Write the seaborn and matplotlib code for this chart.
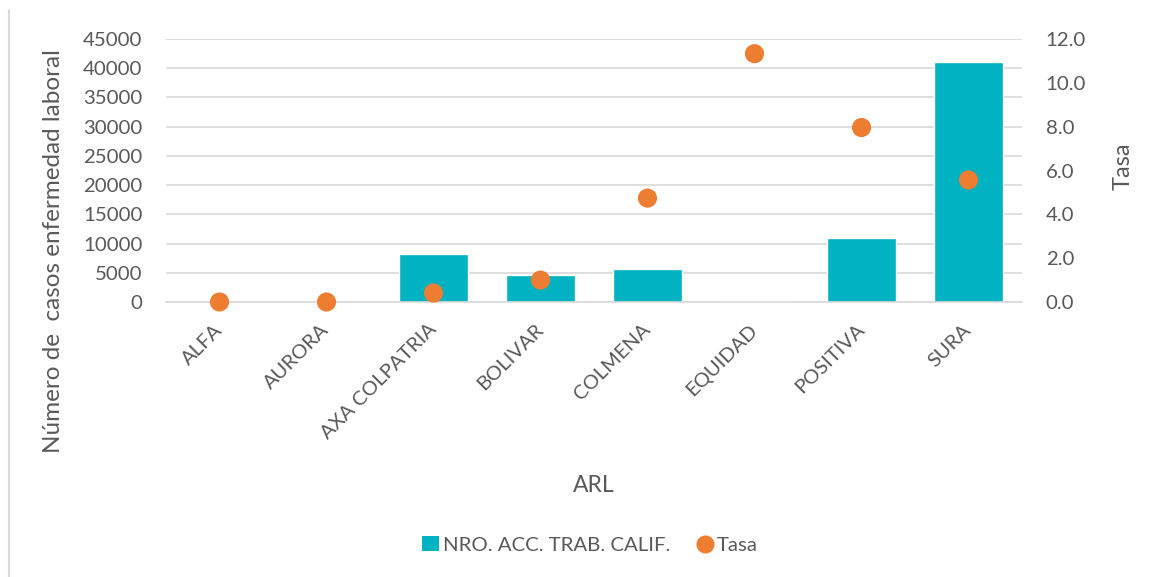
import numpy as np
import matplotlib
matplotlib.use("Agg")
import matplotlib.pyplot as plt
import seaborn as sns
from matplotlib.lines import Line2D
from matplotlib.patches import Patch

# datos
arl = ["ALFA", "AURORA", "AXA COLPATRIA", "BOLIVAR", "COLMENA", "EQUIDAD", "POSITIVA", "SURA"]
casos = [0, 0, 8200, 4650, 5650, 150, 10950, 41050]
tasa = [0.0, 0.0, 0.41, 1.0, 4.74, 11.33, 7.96, 5.57]

teal = "#00B2C2"
orange = "#ED7D31"
gray_txt = "#595959"
grid_col = "#D9D9D9"

sns.set_style("white")
plt.rcParams["font.family"] = ["Lato", "DejaVu Sans"]
plt.rcParams["text.color"] = gray_txt
plt.rcParams["axes.labelcolor"] = gray_txt

fig = plt.figure(figsize=(11.5, 5.77), dpi=100)
ax = fig.add_axes([166 / 1150, 1 - 302 / 577, 856 / 1150, 263 / 577])

sns.barplot(x=arl, y=casos, color=teal, width=0.64, saturation=1, ax=ax, zorder=2)
ax.set_ylim(0, 45000)
ax.set_yticks(np.arange(0, 45001, 5000))
ax.set_xlim(-0.5, len(arl) - 0.5)
ax.yaxis.grid(True, color=grid_col, lw=1.2, zorder=0)
ax.set_axisbelow(True)
for s in ["top", "right", "left"]:
    ax.spines[s].set_visible(False)
ax.spines["bottom"].set_color(grid_col)
ax.spines["bottom"].set_linewidth(1.2)

ax.tick_params(axis="y", length=0, pad=17, labelsize=14.7, labelcolor=gray_txt)
ax.tick_params(axis="x", which="major", length=0, pad=18, labelsize=14.5, labelcolor=gray_txt)
ax.set_xticks(np.arange(-0.5, len(arl), 1), minor=True)
ax.tick_params(axis="x", which="minor", length=6, width=1.2, color=grid_col)
for lab in ax.get_xticklabels():
    lab.set_rotation(45)
    lab.set_ha("right")
    lab.set_va("center")
    lab.set_rotation_mode("anchor")

ax.set_xlabel("ARL", fontsize=16.5)
ax.xaxis.set_label_coords(0.5, -0.658)
ax.set_ylabel("Número de  casos enfermedad laboral", fontsize=17.5)
ax.yaxis.set_label_coords(-0.119, 0.194)

ax2 = ax.twinx()
sns.scatterplot(x=np.arange(len(arl)), y=tasa, color=orange, s=190, edgecolor="none",
                ax=ax2, zorder=3, clip_on=False)
ax2.set_ylim(0, 12)
ax2.set_yticks(np.arange(0, 12.1, 2))
ax2.set_yticklabels([f"{v:.1f}" for v in np.arange(0, 12.1, 2)])
ax2.tick_params(axis="y", length=0, pad=17, labelsize=14.7, labelcolor=gray_txt)
for s in ax2.spines.values():
    s.set_visible(False)
ax2.set_ylabel("Tasa", fontsize=17)
ax2.yaxis.set_label_coords(1.106, 0.517)
ax2.set_xlim(-0.5, len(arl) - 0.5)

handles = [
    Patch(facecolor=teal, edgecolor="none", label="NRO. ACC. TRAB. CALIF."),
    Line2D([0], [0], marker="o", color="none", markerfacecolor=orange,
           markeredgecolor="none", markersize=13, label="Tasa"),
]
fig.legend(handles=handles, loc="center", bbox_to_anchor=(590 / 1150, 1 - 545 / 577),
           ncol=2, frameon=False, fontsize=14.7, handlelength=0.8, handletextpad=0.2,
           columnspacing=1.3)

fig.add_artist(Line2D([9 / 1150, 9 / 1150], [0, 1 - 10 / 577], color=grid_col, lw=1.5))

fig.savefig("out.png", dpi=100)
